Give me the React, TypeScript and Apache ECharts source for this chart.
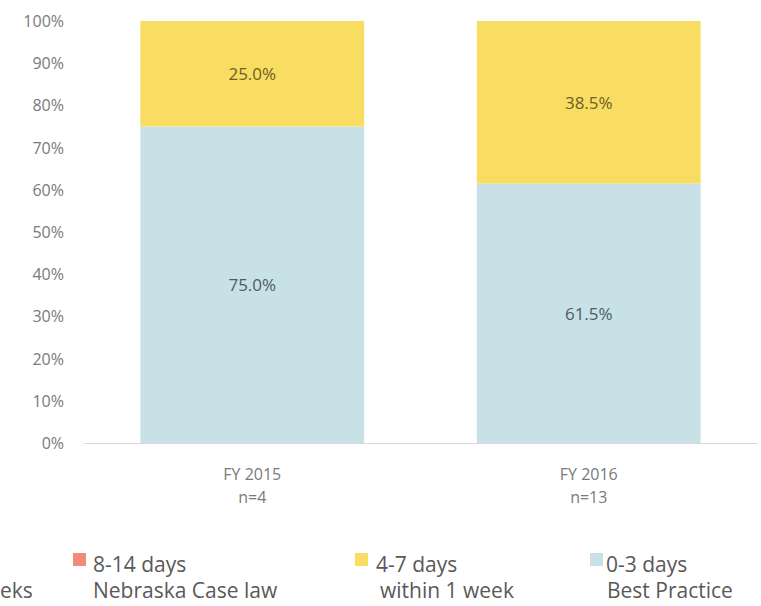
import React, { useEffect, useRef } from "react";
import * as echarts from "echarts";

const categories = ["FY 2015\nn=4", "FY 2016\nn=13"];
const bestPractice = [75.0, 61.5];
const withinWeek = [25.0, 38.5];
const yTicks = [0, 10, 20, 30, 40, 50, 60, 70, 80, 90, 100];

const legendLabels = ["8-14 days", "4-7 days", "0-3 days"];
const legendNotes = ["Nebraska Case law", "within 1 week", "Best Practice"];
const legendColors = ["#F08C7A", "#F9DC62", "#C8E1E7"];
const cutLegendFragment = "eks";

const FONT = "'Open Sans', Lato, sans-serif";

export default function App() {
  const ref = useRef<HTMLDivElement>(null);
  useEffect(() => {
    if (!ref.current) return;
    const chart = echarts.init(ref.current, null, { renderer: "svg" });
    const legendX = [73, 355, 590];
    const textX = [93, 376, 606];
    const noteX = [93, 380, 607];
    const graphics: any[] = [];
    const legendText = (text: string, x: number, y: number) => ({
      type: "text",
      x,
      y,
      style: {
        text,
        fill: "#595959",
        font: `21px ${FONT}`,
        textVerticalAlign: "middle",
        textAlign: "left",
      },
    });
    legendLabels.forEach((lab, i) => {
      graphics.push({
        type: "rect",
        shape: { x: legendX[i], y: 553, width: 13, height: 13 },
        style: { fill: legendColors[i] },
      });
      graphics.push(legendText(lab, textX[i], 564));
      graphics.push(legendText(legendNotes[i], noteX[i], 590));
    });
    graphics.push(legendText(cutLegendFragment, 0, 590));

    const barLabel = (color: string) => ({
      show: true,
      position: "inside",
      color,
      fontSize: 17,
      fontFamily: FONT,
      formatter: (p: any) => `${p.value.toFixed(1)}%`,
    });

    chart.setOption({
      animation: false,
      backgroundColor: "#ffffff",
      textStyle: { fontFamily: FONT },
      grid: { left: 84, right: 4, top: 21, bottom: 163, containLabel: false },
      xAxis: {
        type: "category",
        data: categories,
        axisLine: { lineStyle: { color: "#D9D9D9", width: 1 } },
        axisTick: { show: false },
        axisLabel: {
          color: "#7A7A7A",
          fontSize: 16,
          lineHeight: 23,
          margin: 19,
          fontFamily: FONT,
        },
      },
      yAxis: {
        type: "value",
        min: 0,
        max: 100,
        interval: 10,
        axisLine: { show: false },
        axisTick: { show: false },
        splitLine: { show: false },
        axisLabel: {
          color: "#7A7A7A",
          fontSize: 16,
          margin: 20,
          fontFamily: FONT,
          formatter: (v: number) => (yTicks.includes(v) ? `${v}%` : ""),
        },
      },
      series: [
        {
          name: "0-3 days",
          type: "bar",
          stack: "total",
          barWidth: "66.5%",
          data: bestPractice,
          itemStyle: { color: legendColors[2] },
          label: barLabel("#4F5C63"),
        },
        {
          name: "4-7 days",
          type: "bar",
          stack: "total",
          barWidth: "66.5%",
          data: withinWeek,
          itemStyle: { color: legendColors[1] },
          label: barLabel("#6E6020"),
        },
      ],
      graphic: graphics,
    });
    return () => chart.dispose();
  }, []);
  return (
    <div
      ref={ref}
      style={{ position: "absolute", left: 0, top: 0, width: 761, height: 606 }}
    />
  );
}
